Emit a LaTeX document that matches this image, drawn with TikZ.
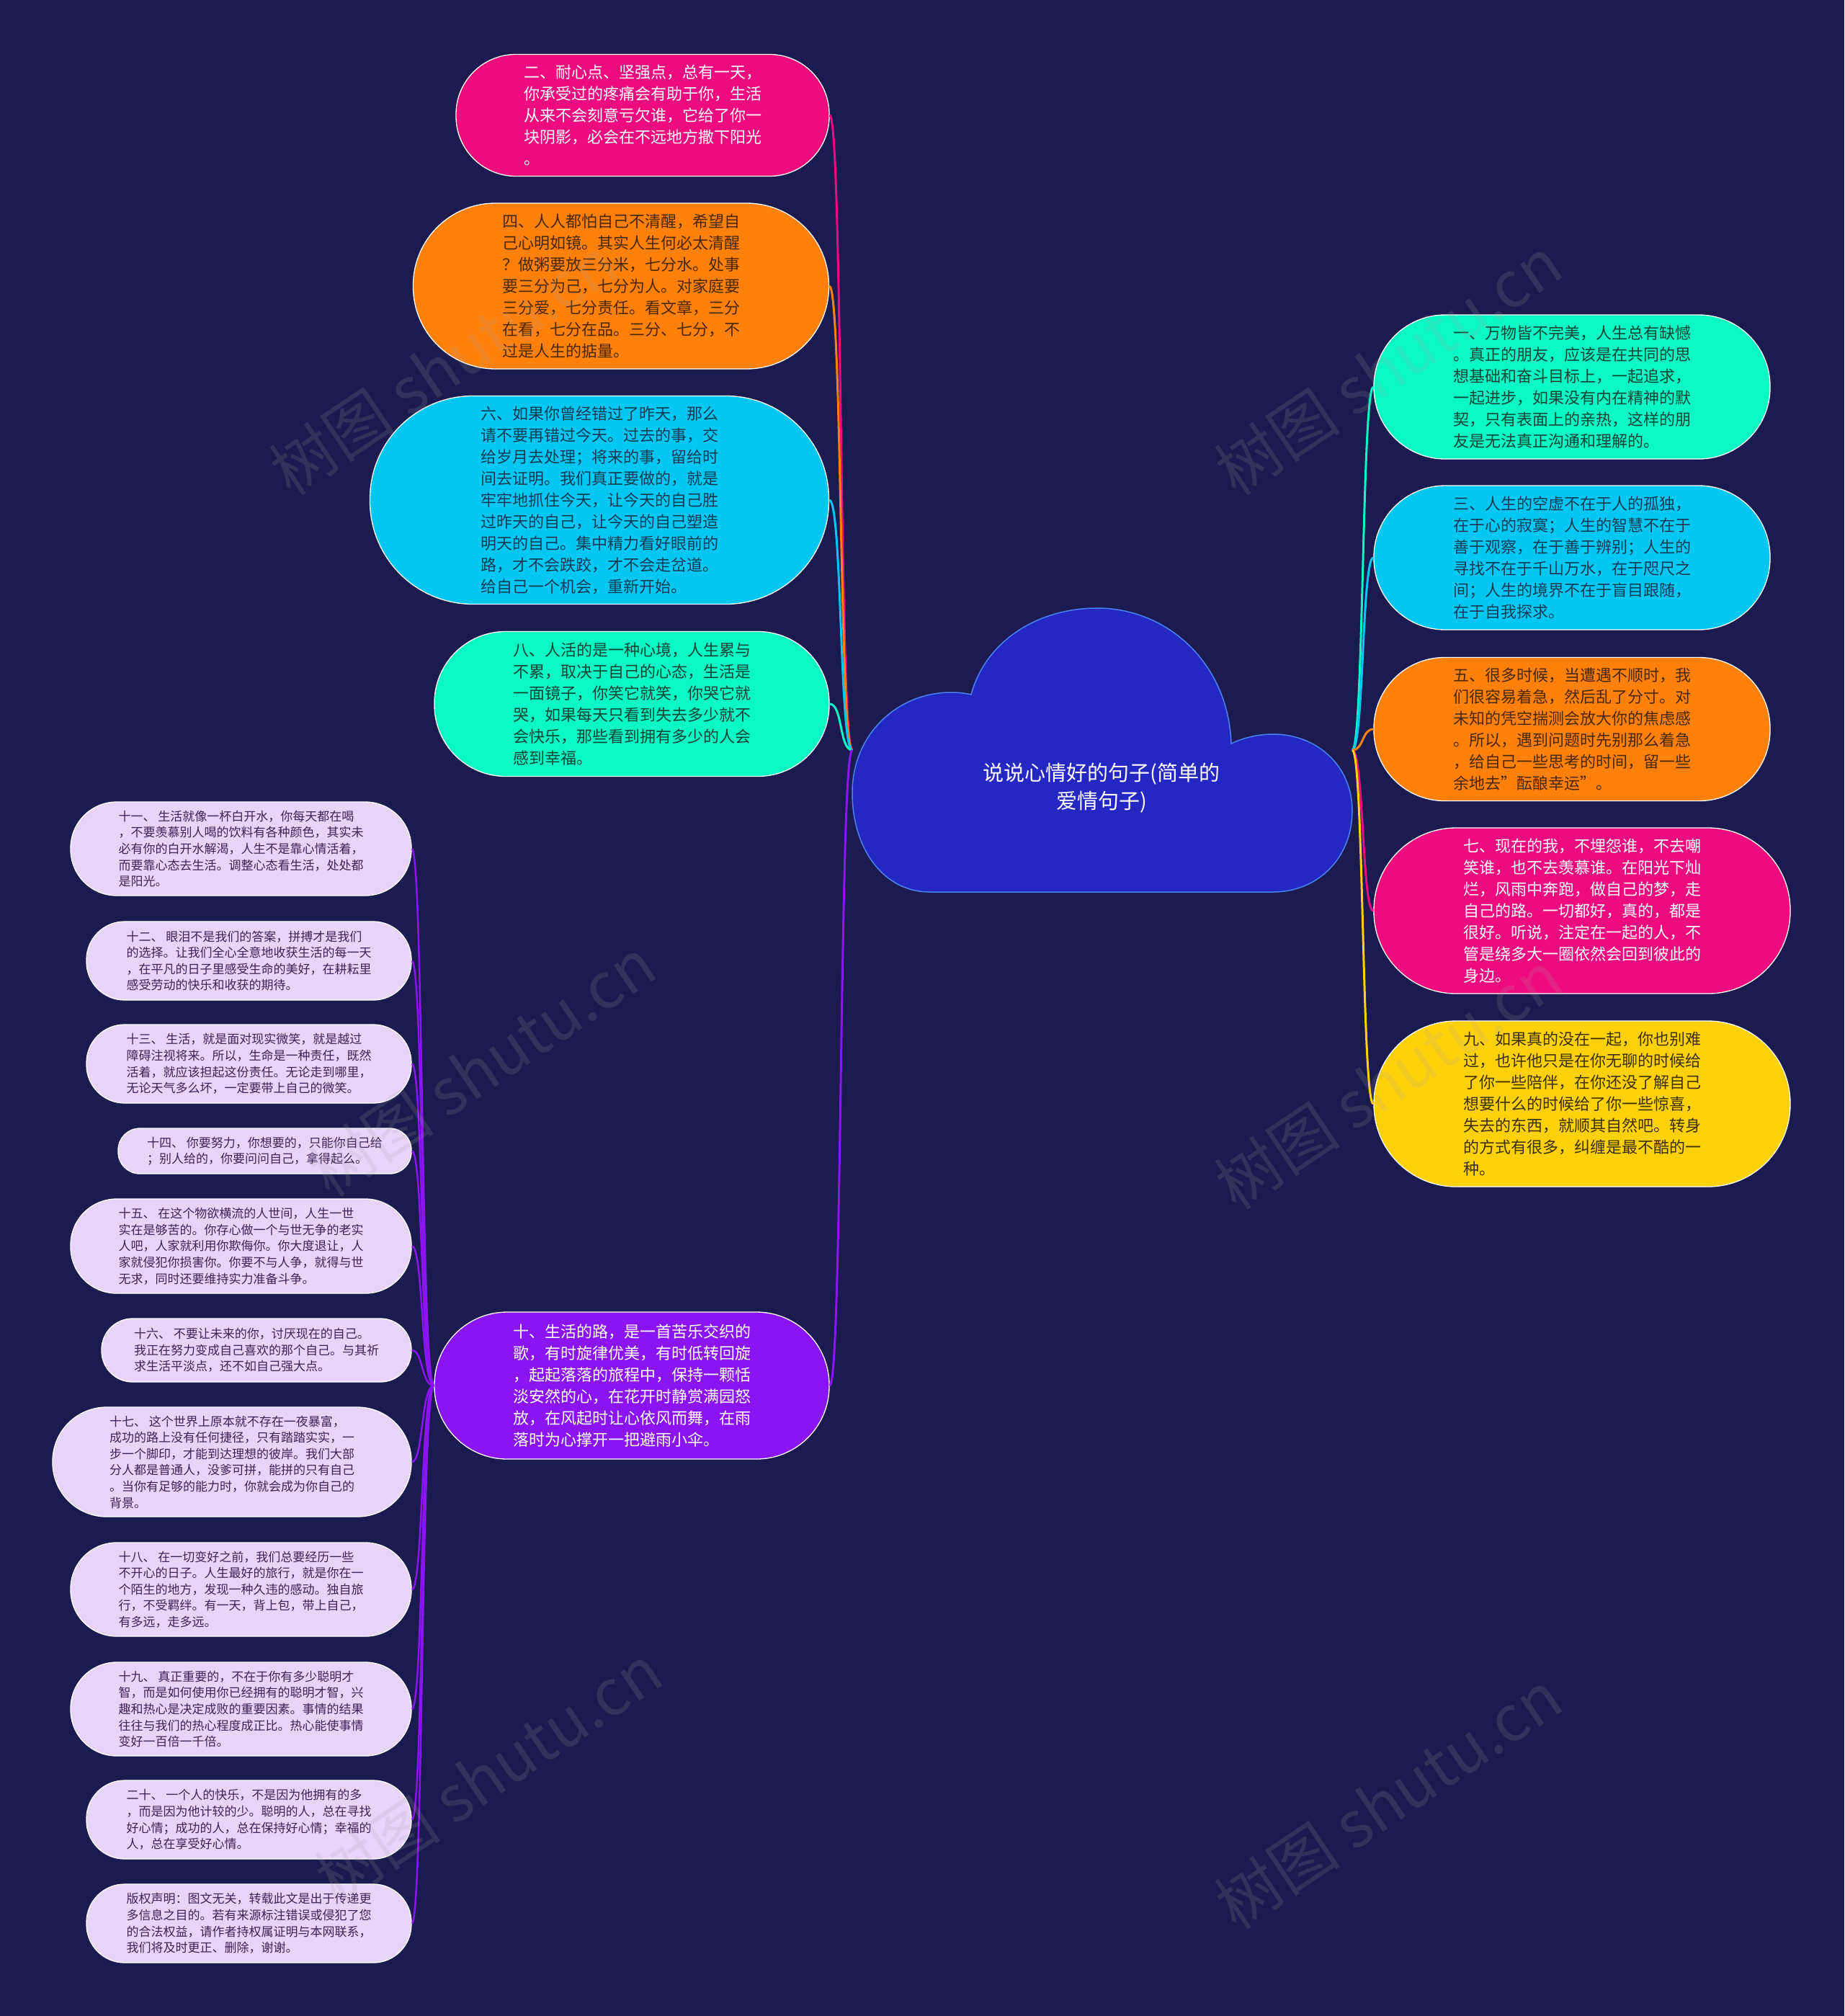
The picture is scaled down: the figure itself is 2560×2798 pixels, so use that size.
\documentclass[tikz,border=0pt]{standalone}
\usepackage{fontspec}
\setmainfont{Noto Sans CJK SC}
\usetikzlibrary{calc}
\definecolor{bg}{HTML}{1B1B4F}
\definecolor{pinkc}{HTML}{EE0A7F}
\definecolor{orangec}{HTML}{FF800A}
\definecolor{cyanc}{HTML}{02C7F2}
\definecolor{mintc}{HTML}{0AF8C4}
\definecolor{yellowc}{HTML}{FFD10A}
\definecolor{purplec}{HTML}{8A14F2}
\definecolor{lavc}{HTML}{E6D4F9}
\definecolor{cloudfill}{HTML}{2527C3}
\definecolor{cloudline}{HTML}{4A82F0}
\definecolor{otxt}{HTML}{4A2800}
\definecolor{ctxt}{HTML}{0B3B55}
\definecolor{mtxt}{HTML}{0A4536}
\definecolor{ytxt}{HTML}{3D3000}
\definecolor{ltxt}{HTML}{3C2358}
\begin{document}
\begin{tikzpicture}[x=1pt,y=-1pt]
\tikzset{
  bub/.style={draw=white, line width=1.3pt, align=left, inner sep=0pt},
  bigtxt/.style={font=\fontsize{22}{30}\selectfont},
  smalltxt/.style={font=\fontsize{17}{22.6}\selectfont, fill=lavc, text=ltxt},
  conn/.style={line width=3pt},
  sconn/.style={line width=2.5pt, draw=purplec},
  wmark/.style={font=\fontsize{88}{88}\selectfont, text=gray!70, opacity=0.16, rotate=34}
}
\fill[bg] (0,0) rectangle (2560,2798);
\useasboundingbox (0,0) rectangle (2560,2798);

% central cloud
\fill[cloudfill] (1348,964) .. controls (1368,890) and (1440,844) .. (1523,844)
  .. controls (1620,844) and (1705,920) .. (1709,1032)
  .. controls (1728,1023) and (1748,1019) .. (1767,1019)
  .. controls (1830,1019) and (1877,1065) .. (1877,1125)
  .. controls (1877,1190) and (1830,1238) .. (1767,1238)
  -- (1290,1238)
  .. controls (1228,1238) and (1183,1180) .. (1183,1100)
  .. controls (1183,1020) and (1245,961) .. (1320,961)
  .. controls (1330,961) and (1340,962) .. (1348,964) -- cycle;
\draw[cloudline, line width=1.5pt] (1348,964) .. controls (1368,890) and (1440,844) .. (1523,844)
  .. controls (1620,844) and (1705,920) .. (1709,1032)
  .. controls (1728,1023) and (1748,1019) .. (1767,1019)
  .. controls (1830,1019) and (1877,1065) .. (1877,1125)
  .. controls (1877,1190) and (1830,1238) .. (1767,1238)
  -- (1290,1238)
  .. controls (1228,1238) and (1183,1180) .. (1183,1100)
  .. controls (1183,1020) and (1245,961) .. (1320,961)
  .. controls (1330,961) and (1340,962) .. (1348,964) -- cycle;
\node[font=\fontsize{29}{39}\selectfont, text=white, align=center] (root) at (1529,1094)
  {说说心情好的句子(简单的\\爱情句子)};
\coordinate (rootL) at (1183,1041);
\coordinate (rootR) at (1877,1041);

% left main nodes
\node[bub, bigtxt, fill=pinkc, text=white, minimum width=518pt, minimum height=169pt, rounded corners=83pt] (n2) at (892,160)
{二、耐心点、坚强点，总有一天，\\你承受过的疼痛会有助于你，生活\\从来不会刻意亏欠谁，它给了你一\\块阴影，必会在不远地方撒下阳光\\。};
\node[bub, bigtxt, fill=orangec, text=otxt, minimum width=577pt, minimum height=230pt, rounded corners=114pt] (n4) at (862,397)
{四、人人都怕自己不清醒，希望自\\己心明如镜。其实人生何必太清醒\\？做粥要放三分米，七分水。处事\\要三分为己，七分为人。对家庭要\\三分爱，七分责任。看文章，三分\\在看，七分在品。三分、七分，不\\过是人生的掂量。};
\node[bub, bigtxt, fill=cyanc, text=ctxt, minimum width=637pt, minimum height=289pt, rounded corners=143pt] (n6) at (832,694)
{六、如果你曾经错过了昨天，那么\\请不要再错过今天。过去的事，交\\给岁月去处理；将来的事，留给时\\间去证明。我们真正要做的，就是\\牢牢地抓住今天，让今天的自己胜\\过昨天的自己，让今天的自己塑造\\明天的自己。集中精力看好眼前的\\路，才不会跌跤，才不会走岔道。\\给自己一个机会，重新开始。};
\node[bub, bigtxt, fill=mintc, text=mtxt, minimum width=548pt, minimum height=201pt, rounded corners=99pt] (n8) at (877,977)
{八、人活的是一种心境，人生累与\\不累，取决于自己的心态，生活是\\一面镜子，你笑它就笑，你哭它就\\哭，如果每天只看到失去多少就不\\会快乐，那些看到拥有多少的人会\\感到幸福。};
\node[bub, bigtxt, fill=purplec, text=white, minimum width=548pt, minimum height=204pt, rounded corners=101pt] (n10) at (877,1923)
{十、生活的路，是一首苦乐交织的\\歌，有时旋律优美，有时低转回旋\\，起起落落的旅程中，保持一颗恬\\淡安然的心，在花开时静赏满园怒\\放，在风起时让心依风而舞，在雨\\落时为心撑开一把避雨小伞。};

% right main nodes
\node[bub, bigtxt, fill=mintc, text=mtxt, minimum width=550pt, minimum height=200pt, rounded corners=99pt] (n1) at (2182,537)
{一、万物皆不完美，人生总有缺憾\\。真正的朋友，应该是在共同的思\\想基础和奋斗目标上，一起追求，\\一起进步，如果没有内在精神的默\\契，只有表面上的亲热，这样的朋\\友是无法真正沟通和理解的。};
\node[bub, bigtxt, fill=cyanc, text=ctxt, minimum width=550pt, minimum height=200pt, rounded corners=99pt] (n3) at (2182,774)
{三、人生的空虚不在于人的孤独，\\在于心的寂寞；人生的智慧不在于\\善于观察，在于善于辨别；人生的\\寻找不在于千山万水，在于咫尺之\\间；人生的境界不在于盲目跟随，\\在于自我探求。};
\node[bub, bigtxt, fill=orangec, text=otxt, minimum width=550pt, minimum height=199pt, rounded corners=98pt] (n5) at (2182,1012)
{五、很多时候，当遭遇不顺时，我\\们很容易着急，然后乱了分寸。对\\未知的凭空揣测会放大你的焦虑感\\。所以，遇到问题时先别那么着急\\，给自己一些思考的时间，留一些\\余地去\symbol{34}酝酿幸运\symbol{34}。};
\node[bub, bigtxt, fill=pinkc, text=white, minimum width=578pt, minimum height=230pt, rounded corners=114pt] (n7) at (2196,1264)
{七、现在的我，不埋怨谁，不去嘲\\笑谁，也不去羡慕谁。在阳光下灿\\烂，风雨中奔跑，做自己的梦，走\\自己的路。一切都好，真的，都是\\很好。听说，注定在一起的人，不\\管是绕多大一圈依然会回到彼此的\\身边。};
\node[bub, bigtxt, fill=yellowc, text=ytxt, minimum width=578pt, minimum height=230pt, rounded corners=114pt] (n9) at (2196,1532)
{九、如果真的没在一起，你也别难\\过，也许他只是在你无聊的时候给\\了你一些陪伴，在你还没了解自己\\想要什么的时候给了你一些惊喜，\\失去的东西，就顺其自然吧。转身\\的方式有很多，纠缠是最不酷的一\\种。};

% small left nodes
\node[bub, smalltxt, minimum width=473pt, minimum height=130pt, rounded corners=64pt] (s11) at (334.5,1178)
{十一、 生活就像一杯白开水，你每天都在喝\\，不要羡慕别人喝的饮料有各种颜色，其实未\\必有你的白开水解渴，人生不是靠心情活着，\\而要靠心态去生活。调整心态看生活，处处都\\是阳光。};
\node[bub, smalltxt, minimum width=451pt, minimum height=109pt, rounded corners=53pt] (s12) at (345.5,1333.5)
{十二、 眼泪不是我们的答案，拼搏才是我们\\的选择。让我们全心全意地收获生活的每一天\\，在平凡的日子里感受生命的美好，在耕耘里\\感受劳动的快乐和收获的期待。};
\node[bub, smalltxt, minimum width=451pt, minimum height=109pt, rounded corners=53pt] (s13) at (345.5,1476.5)
{十三、 生活，就是面对现实微笑，就是越过\\障碍注视将来。所以，生命是一种责任，既然\\活着，就应该担起这份责任。无论走到哪里，\\无论天气多么坏，一定要带上自己的微笑。};
\node[bub, smalltxt, minimum width=407pt, minimum height=63pt, rounded corners=30pt] (s14) at (367.5,1597.5)
{十四、 你要努力，你想要的，只能你自己给\\；别人给的，你要问问自己，拿得起么。};
\node[bub, smalltxt, minimum width=473pt, minimum height=131pt, rounded corners=64pt] (s15) at (334.5,1729.5)
{十五、 在这个物欲横流的人世间，人生一世\\实在是够苦的。你存心做一个与世无争的老实\\人吧，人家就利用你欺侮你。你大度退让，人\\家就侵犯你损害你。你要不与人争，就得与世\\无求，同时还要维持实力准备斗争。};
\node[bub, smalltxt, minimum width=430pt, minimum height=88pt, rounded corners=43pt] (s16) at (356,1874)
{十六、 不要让未来的你，讨厌现在的自己。\\我正在努力变成自己喜欢的那个自己。与其祈\\求生活平淡点，还不如自己强大点。};
\node[bub, smalltxt, minimum width=498pt, minimum height=152pt, rounded corners=75pt] (s17) at (322,2029)
{十七、 这个世界上原本就不存在一夜暴富，\\成功的路上没有任何捷径，只有踏踏实实，一\\步一个脚印，才能到达理想的彼岸。我们大部\\分人都是普通人，没爹可拼，能拼的只有自己\\。当你有足够的能力时，你就会成为你自己的\\背景。};
\node[bub, smalltxt, minimum width=473pt, minimum height=130pt, rounded corners=64pt] (s18) at (334.5,2206)
{十八、 在一切变好之前，我们总要经历一些\\不开心的日子。人生最好的旅行，就是你在一\\个陌生的地方，发现一种久违的感动。独自旅\\行，不受羁绊。有一天，背上包，带上自己，\\有多远，走多远。};
\node[bub, smalltxt, minimum width=473pt, minimum height=130pt, rounded corners=64pt] (s19) at (334.5,2372)
{十九、 真正重要的，不在于你有多少聪明才\\智，而是如何使用你已经拥有的聪明才智，兴\\趣和热心是决定成败的重要因素。事情的结果\\往往与我们的热心程度成正比。热心能使事情\\变好一百倍一千倍。};
\node[bub, smalltxt, minimum width=451pt, minimum height=109pt, rounded corners=53pt] (s20) at (345.5,2525.5)
{二十、 一个人的快乐，不是因为他拥有的多\\，而是因为他计较的少。聪明的人，总在寻找\\好心情；成功的人，总在保持好心情；幸福的\\人，总在享受好心情。};
\node[bub, smalltxt, minimum width=451pt, minimum height=109pt, rounded corners=53pt] (s21) at (345.5,2669.5)
{版权声明：图文无关，转载此文是出于传递更\\多信息之目的。若有来源标注错误或侵犯了您\\的合法权益，请作者持权属证明与本网联系，\\我们将及时更正、删除，谢谢。};

% connectors left
\foreach \n/\c in {n2/pinkc, n4/orangec, n6/cyanc, n8/mintc, n10/purplec}{
  \draw[conn, \c] (rootL) .. controls ($(rootL)+(-18,0)$) and ($(\n.east)+(18,0)$) .. (\n.east);
}
% connectors right
\foreach \n/\c in {n1/mintc, n3/cyanc, n5/orangec, n7/pinkc, n9/yellowc}{
  \draw[conn, \c] (rootR) .. controls ($(rootR)+(16,0)$) and ($(\n.west)+(-16,0)$) .. (\n.west);
}
% connectors small
\foreach \n in {s11,s12,s13,s14,s15,s16,s17,s18,s19,s20,s21}{
  \draw[sconn] (n10.west) .. controls ($(n10.west)+(-18,0)$) and ($(\n.east)+(16,0)$) .. (\n.east);
}

% watermarks
\node[wmark] (w1) at (615,508) {树图 shutu.cn};
\node[wmark] (w2) at (1927,508) {树图 shutu.cn};
\node[wmark] (w3) at (669,1481) {树图 shutu.cn};
\node[wmark] (w4) at (1927,1499) {树图 shutu.cn};
\node[wmark] (w5) at (678,2462) {树图 shutu.cn};
\node[wmark] (w6) at (1927,2498) {树图 shutu.cn};
\end{tikzpicture}
\end{document}
